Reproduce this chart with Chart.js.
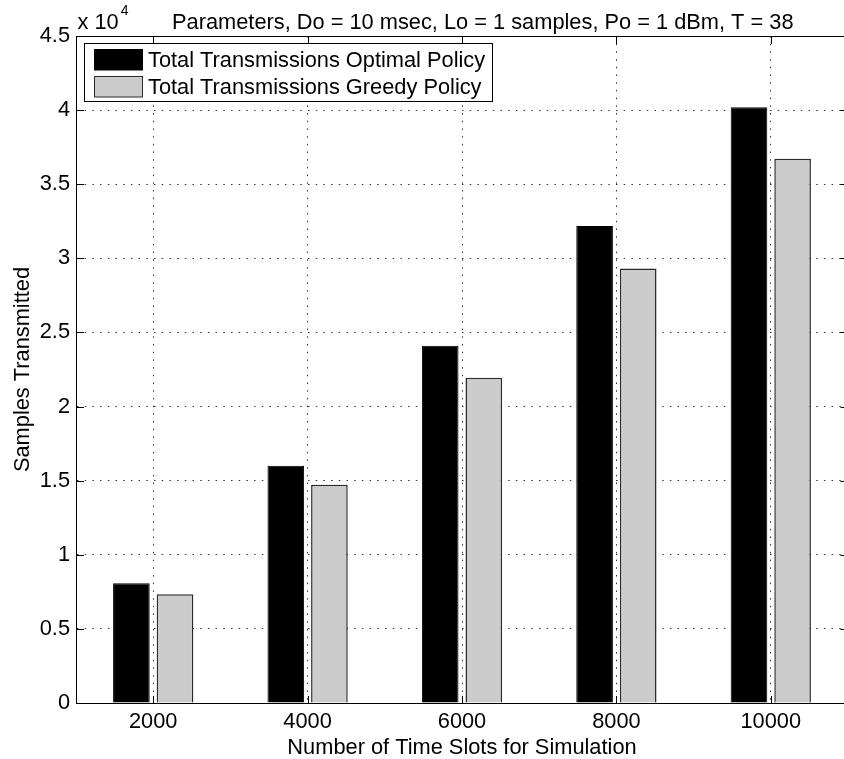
<!DOCTYPE html>
<html>
<head>
<meta charset="utf-8">
<title>Samples Transmitted</title>
<script src="https://cdn.jsdelivr.net/npm/chart.js@4.4.1/dist/chart.umd.min.js"></script>
<style>
  html, body { margin: 0; padding: 0; overflow: hidden; background: #fff; }
  #wrap { width: 860px; height: 759px; }
</style>
</head>
<body>
<div id="wrap"><canvas id="barChart" width="860" height="759"></canvas></div>
<script>
// values (samples, y axis is scaled x 10^4)
const timeSlots = ['2000', '4000', '6000', '8000', '10000'];
const optimalTx = [8080, 16010, 24110, 32180, 40200];
const greedyTx = [7330, 14720, 21950, 29320, 36720];
const yMin = 0;
const yMax = 45000;
const yStep = 5000;

const chartTitle = 'Parameters, Do = 10 msec, Lo = 1 samples, Po = 1 dBm, T = 38';
const xLabel = 'Number of Time Slots for Simulation';
const yLabel = 'Samples Transmitted';
const optimalLabel = 'Total Transmissions Optimal Policy';
const greedyLabel = 'Total Transmissions Greedy Policy';

const FONT = '"Liberation Sans", Arial, Helvetica, sans-serif';
const FS = 21.8;

// matlab style extras: top frame, inward ticks, title, exponent, legend box
const matlabFrame = {
    id: 'matlabFrame',
    afterDraw(chart) {
        const ctx = chart.ctx;
        const area = chart.chartArea;
        const xs = chart.scales.x;
        const ys = chart.scales.y;
        const top = Math.round(area.top) + 0.5;
        const bottom = Math.round(area.bottom) + 0.5;
        const left = Math.round(area.left) + 0.5;

        ctx.save();
        ctx.strokeStyle = '#000';
        ctx.lineWidth = 1;
        ctx.beginPath();
        ctx.moveTo(area.left, top);
        ctx.lineTo(area.right, top);

        // ticks pointing into the axes
        xs.ticks.forEach((t, i) => {
            const px = Math.round(xs.getPixelForTick(i)) + 0.5;
            ctx.moveTo(px, bottom);
            ctx.lineTo(px, bottom - 7.5);
            ctx.moveTo(px, top);
            ctx.lineTo(px, top + 7.5);
        });
        ys.ticks.forEach(t => {
            const py = Math.round(ys.getPixelForValue(t.value)) + 0.5;
            ctx.moveTo(left, py);
            ctx.lineTo(left + 7.5, py);
            ctx.moveTo(area.right, py);
            ctx.lineTo(area.right - 7.5, py);
        });
        ctx.stroke();

        // title + exponent
        ctx.fillStyle = '#000';
        ctx.textBaseline = 'alphabetic';
        ctx.textAlign = 'left';
        ctx.font = FS + 'px ' + FONT;
        ctx.fillText(chartTitle, 172, 28.5);
        const base = 'x 10';
        ctx.fillText(base, 77.5, 28.5);
        const bw = ctx.measureText(base).width;
        ctx.font = '14px ' + FONT;
        ctx.fillText('4', 77.5 + bw + 2, 15);

        // legend
        const lg = { x: 84.5, y: 43.5, w: 408, h: 58 };
        ctx.fillStyle = '#fff';
        ctx.fillRect(lg.x, lg.y, lg.w, lg.h);
        ctx.strokeStyle = '#000';
        ctx.strokeRect(lg.x, lg.y, lg.w, lg.h);
        ctx.font = FS + 'px ' + FONT;
        ctx.textBaseline = 'middle';
        chart.data.datasets.forEach((ds, i) => {
            const sy = 49.5 + i * 27;
            ctx.fillStyle = ds.backgroundColor;
            ctx.fillRect(94.5, sy, 48, 20.5);
            ctx.strokeStyle = ds.borderColor;
            ctx.strokeRect(94.5, sy, 48, 20.5);
            ctx.fillStyle = '#000';
            ctx.fillText(ds.label, 148, sy + 11);
        });
        ctx.restore();
    }
};

function drawChart() {
    const ctx = document.getElementById('barChart').getContext('2d');

    new Chart(ctx, {
        type: 'bar',
        data: {
            labels: timeSlots,
            datasets: [{
                label: optimalLabel,
                data: optimalTx,
                backgroundColor: '#000000',
                borderColor: '#000000',
                borderWidth: 1
            }, {
                label: greedyLabel,
                data: greedyTx,
                backgroundColor: '#cccccc',
                borderColor: '#2a2a2a',
                borderWidth: 1.5
            }]
        },
        options: {
            responsive: false,
            animation: false,
            categoryPercentage: 0.565,
            barPercentage: 0.84,
            layout: {
                padding: { top: 36, right: 12, bottom: 0, left: 0 }
            },
            scales: {
                x: {
                    offset: true,
                    grid: { offset: false, color: '#333', lineWidth: 1, drawTicks: false },
                    border: { display: true, color: '#000', width: 1, dash: [1.5, 6.2] },
                    ticks: {
                        color: '#000',
                        padding: 6,
                        maxRotation: 0,
                        autoSkip: false,
                        font: { family: FONT, size: FS, lineHeight: 1.2 }
                    },
                    title: {
                        display: true,
                        text: xLabel,
                        color: '#000',
                        padding: { top: 0, bottom: 0 },
                        font: { family: FONT, size: FS, lineHeight: 1 }
                    },
                    afterFit: scale => { scale.height = 56; }
                },
                y: {
                    min: yMin,
                    max: yMax,
                    grid: { color: '#333', lineWidth: 1, drawTicks: false },
                    border: { display: true, color: '#000', width: 1, dash: [1.5, 6.2] },
                    ticks: {
                        stepSize: yStep,
                        color: '#000',
                        padding: 6,
                        font: { family: FONT, size: FS },
                        callback: v => String(v / 10000)
                    },
                    title: {
                        display: true,
                        text: yLabel,
                        color: '#000',
                        padding: { top: 12, bottom: 0 },
                        font: { family: FONT, size: FS, lineHeight: 1 }
                    },
                    afterFit: scale => { scale.width = 76; }
                }
            },
            plugins: {
                legend: { display: false },
                title: { display: false },
                tooltip: { enabled: false }
            }
        },
        plugins: [matlabFrame]
    });
}

drawChart();
</script>
</body>
</html>
